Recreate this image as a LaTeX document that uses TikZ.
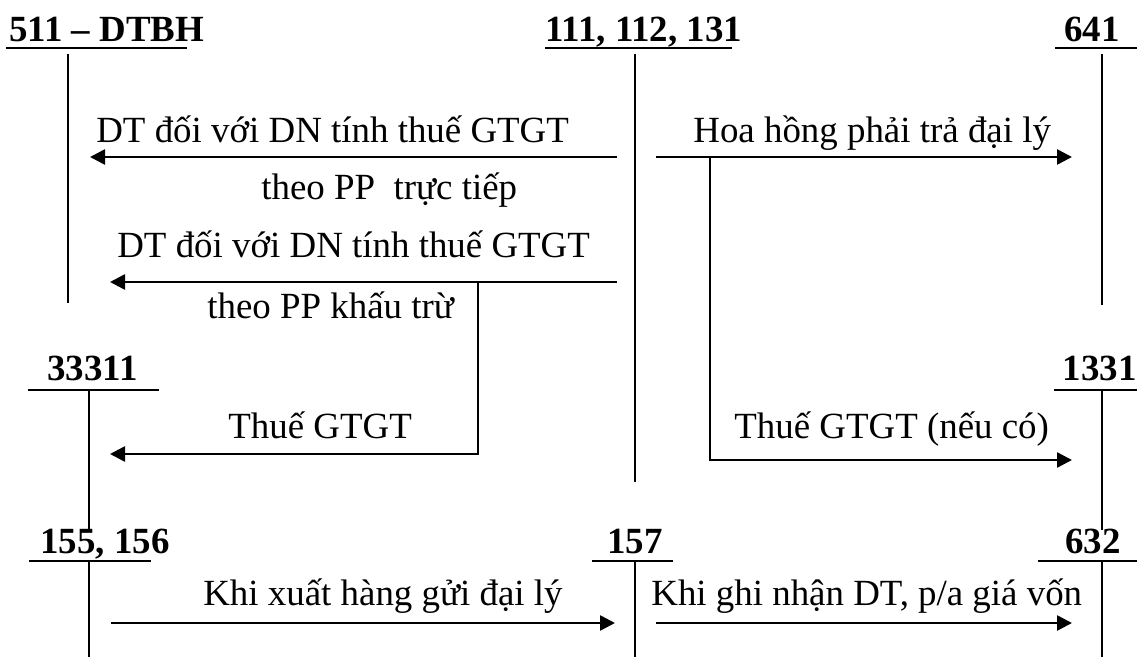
\documentclass[tikz,border=0pt]{standalone}
\usepackage{fontspec}
\setmainfont{Liberation Serif}
\usetikzlibrary{arrows.meta,positioning}
\tikzset{
    acc/.style={ % account name over the T
        font=\fontsize{21}{25}\selectfont\bfseries,
        inner sep=0pt,
        anchor=base west
        },
    lbl/.style={ % entry text
        font=\fontsize{21}{25}\selectfont,
        inner sep=0pt,
        anchor=base west
        },
    tline/.style={ % T-account lines
        line width=1pt
        },
    arrout/.style={
        -{Triangle[length=3mm,width=3mm]},
        line width=1.5pt
        }
}

\begin{document}
\begin{tikzpicture}
    \useasboundingbox (0,0) rectangle (22.74,-13.14);

    %%%%% account 511
    \node[acc] (t511) at (0.18,-0.84) {511 – DTBH};
    \draw[tline] (0.12,-0.96) -- (3.74,-0.96);
    \draw[tline] (1.36,-1.08) -- (1.36,-6.06);

    %%%%% account 111
    \node[acc] (t111) at (10.9,-0.84) {111, 112, 131};
    \draw[tline] (10.9,-0.96) -- (14.64,-0.96);
    \draw[tline] (12.7,-1.08) -- (12.7,-9.64);

    %%%%% account 641
    \node[acc] (t641) at (21.28,-0.84) {641};
    \draw[tline] (21.1,-0.96) -- (22.74,-0.96);
    \draw[tline] (22.04,-1.08) -- (22.04,-6.1);

    %%%%% account 33311
    \node[acc] (t33311) at (0.94,-7.6) {33311};
    \draw[tline] (0.56,-7.8) -- (3.18,-7.8);
    \draw[tline] (1.78,-7.8) -- (1.78,-10.6);

    %%%%% account 1331
    \node[acc] (t1331) at (21.25,-7.6) {1331};
    \draw[tline] (21.08,-7.8) -- (22.74,-7.8);
    \draw[tline] (22.04,-7.8) -- (22.04,-10.6);

    %%%%% account 155
    \node[acc] (t155) at (0.8,-11.06) {155, 156};
    \draw[tline] (0.58,-11.22) -- (3.02,-11.22);
    \draw[tline] (1.78,-11.22) -- (1.78,-13.14);

    %%%%% account 157
    \node[acc] (t157) at (12.14,-11.06) {157};
    \draw[tline] (11.84,-11.22) -- (13.46,-11.22);
    \draw[tline] (12.7,-11.22) -- (12.7,-13.14);

    %%%%% account 632
    \node[acc] (t632) at (21.3,-11.06) {632};
    \draw[tline] (20.76,-11.22) -- (22.74,-11.22);
    \draw[tline] (22.04,-11.22) -- (22.04,-13.14);

    %%%%% edge e1
    \coordinate (e1a) at (12.34,-3.14);
    \coordinate (e1b) at (1.8,-3.14);
    \draw[arrout] (e1a) -- (e1b);
    \node[lbl] (l1) at (1.92,-2.86) {DT đối với DN tính thuế GTGT};
    \node[lbl] (l1b) at (5.22,-4.0) {theo PP\ \ trực tiếp};

    %%%%% edge e2
    \coordinate (e2a) at (12.34,-5.64);
    \coordinate (e2b) at (2.2,-5.64);
    \draw[arrout] (e2a) -- (e2b);
    \node[lbl] (l2) at (2.34,-5.16) {DT đối với DN tính thuế GTGT};
    \node[lbl] (l2b) at (4.14,-6.36) {theo PP khấu trừ};

    %%%%% edge e3
    \coordinate (e3a) at (9.56,-5.64);
    \coordinate (e3b) at (2.2,-9.08);
    \draw[arrout] (e3a) |- (e3b);
    \node[lbl] (l3) at (4.56,-8.76) {Thuế GTGT};

    %%%%% edge e4
    \coordinate (e4a) at (13.12,-3.14);
    \coordinate (e4b) at (21.44,-3.14);
    \draw[arrout] (e4a) -- (e4b);
    \node[lbl] (l4) at (13.86,-2.86) {Hoa hồng phải trả đại lý};

    %%%%% edge e5
    \coordinate (e5a) at (14.2,-3.14);
    \coordinate (e5b) at (21.44,-9.2);
    \draw[arrout] (e5a) |- (e5b);
    \node[lbl] (l5) at (14.68,-8.76) {Thuế GTGT (nếu có)};

    %%%%% edge e6
    \coordinate (e6a) at (2.22,-12.46);
    \coordinate (e6b) at (12.3,-12.46);
    \draw[arrout] (e6a) -- (e6b);
    \node[lbl] (l6) at (4.06,-12.1) {Khi xuất hàng gửi đại lý};

    %%%%% edge e7
    \coordinate (e7a) at (13.12,-12.46);
    \coordinate (e7b) at (21.44,-12.46);
    \draw[arrout] (e7a) -- (e7b);
    \node[lbl] (l7) at (13.02,-12.1) {Khi ghi nhận DT, p/a giá vốn};
\end{tikzpicture}
\end{document}
